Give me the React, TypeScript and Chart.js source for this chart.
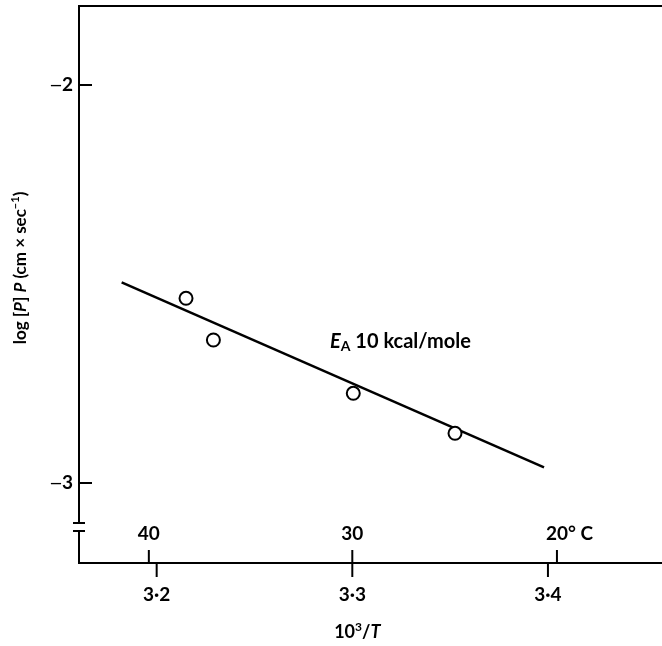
import { useEffect, useRef } from "react";
import { Chart, registerables } from "chart.js";
Chart.register(...registerables);

// measured points (10^3/T, log P)
const pointX = [3.215, 3.229, 3.3005, 3.3525];
const pointY = [-2.5359, -2.6407, -2.7746, -2.8751];
// fitted line end points
const fitX = [3.1821, 3.398];
const fitY = [-2.4957, -2.9606];
// axes
const xTicks = [3.2, 3.3, 3.4];
const xTickLabels = ["3·2", "3·3", "3·4"];
const yTicks = [-2, -3];
const yTickLabels = ["2", "3"];
const tempTicks = [3.196, 3.3, 3.4046];
const tempLabels = ["40", "30", "20"];
const tempSuffix = ["", "", "° C"];
const yBreak = [-3.1005, -3.1206];
const xRange = [3.1603, 3.4583];
const yRange = [-3.201, -1.8015];
const annotationPos = [3.2886, -2.6608];

const FAM = "Lato, 'Open Sans', sans-serif";
const f = (size: number, italic = false, weight = 700) =>
  `${italic ? "italic " : ""}${weight} ${size}px ${FAM}`;

type Run = { t: string; font: string; dy?: number };

function drawRuns(ctx: CanvasRenderingContext2D, runs: Run[], x: number, y: number, align: "left" | "center" | "right") {
  let total = 0;
  for (const r of runs) {
    ctx.font = r.font;
    total += ctx.measureText(r.t).width;
  }
  let cx = align === "center" ? x - total / 2 : align === "right" ? x - total : x;
  ctx.textAlign = "left";
  for (const r of runs) {
    ctx.font = r.font;
    ctx.fillText(r.t, cx, y + (r.dy || 0));
    cx += ctx.measureText(r.t).width;
  }
}

const decorPlugin = {
  id: "decor",
  afterDraw(chart: any) {
    const ctx: CanvasRenderingContext2D = chart.ctx;
    const xs = chart.scales.x;
    const ys = chart.scales.y;
    const X = (v: number) => xs.getPixelForValue(v);
    const Y = (v: number) => ys.getPixelForValue(v);
    const { left, right, top, bottom } = chart.chartArea;
    ctx.save();
    ctx.strokeStyle = "#000";
    ctx.fillStyle = "#000";
    ctx.lineWidth = 2;
    ctx.lineCap = "butt";
    // top line
    ctx.beginPath();
    ctx.moveTo(left - 1, top);
    ctx.lineTo(right, top);
    ctx.stroke();
    // left axis with break
    const b1 = Y(yBreak[0]);
    const b2 = Y(yBreak[1]);
    ctx.beginPath();
    ctx.moveTo(left, top);
    ctx.lineTo(left, b1);
    ctx.moveTo(left - 6, b1);
    ctx.lineTo(left + 6, b1);
    ctx.moveTo(left - 6, b2);
    ctx.lineTo(left + 6, b2);
    ctx.moveTo(left, b2);
    ctx.lineTo(left, bottom + 1);
    ctx.stroke();
    // bottom axis
    ctx.beginPath();
    ctx.moveTo(left - 1, bottom);
    ctx.lineTo(right, bottom);
    ctx.stroke();
    // y ticks (inside)
    ctx.textBaseline = "middle";
    yTicks.forEach((v, i) => {
      const py = Y(v);
      ctx.beginPath();
      ctx.moveTo(left, py);
      ctx.lineTo(left + 13, py);
      ctx.stroke();
      drawRuns(
        ctx,
        [
          { t: "—", font: f(15) },
          { t: yTickLabels[i], font: f(19) },
        ],
        left - 6,
        py,
        "right"
      );
    });
    // x ticks (down)
    xTicks.forEach((v, i) => {
      const px = X(v);
      ctx.beginPath();
      ctx.moveTo(px, bottom);
      ctx.lineTo(px, bottom + 14);
      ctx.stroke();
      ctx.font = f(19);
      ctx.textAlign = "center";
      ctx.fillText(xTickLabels[i], px, bottom + 32);
    });
    // temperature ticks (up)
    tempTicks.forEach((v, i) => {
      const px = X(v);
      ctx.beginPath();
      ctx.moveTo(px, bottom);
      ctx.lineTo(px, bottom - 13);
      ctx.stroke();
      ctx.font = f(19);
      const w = ctx.measureText(tempLabels[i]).width;
      ctx.textAlign = "left";
      ctx.fillText(tempLabels[i] + tempSuffix[i], px - w / 2, bottom - 29);
    });
    // x title
    ctx.textBaseline = "alphabetic";
    drawRuns(
      ctx,
      [
        { t: "10", font: f(18) },
        { t: "3", font: f(12), dy: -7 },
        { t: "/", font: f(18) },
        { t: "T", font: f(18, true) },
      ],
      X(3.3) + 5,
      bottom + 75,
      "center"
    );
    // y title (rotated)
    ctx.save();
    ctx.translate(26, 268);
    ctx.rotate(-Math.PI / 2);
    drawRuns(
      ctx,
      [
        { t: "log [", font: f(17) },
        { t: "P", font: f(17, true) },
        { t: "] ", font: f(17) },
        { t: "P", font: f(17, true) },
        { t: " (cm × sec", font: f(17) },
        { t: "−1", font: f(11), dy: -7 },
        { t: ")", font: f(17) },
      ],
      0,
      0,
      "center"
    );
    ctx.restore();
    // annotation
    drawRuns(
      ctx,
      [
        { t: "E", font: f(20, true) },
        { t: "A", font: f(14), dy: 3 },
        { t: " 10 kcal/mole", font: f(20) },
      ],
      X(annotationPos[0]),
      Y(annotationPos[1]),
      "left"
    );
    ctx.restore();
  },
};

export default function App() {
  const ref = useRef<HTMLCanvasElement | null>(null);
  useEffect(() => {
    if (!ref.current) return;
    const chart = new Chart(ref.current, {
      type: "scatter",
      data: {
        datasets: [
          {
            label: "points",
            data: pointX.map((x, i) => ({ x, y: pointY[i] })),
            pointStyle: "circle",
            pointRadius: 6.5,
            pointBorderWidth: 2,
            pointBackgroundColor: "#fff",
            pointBorderColor: "#000",
            showLine: false,
          },
          {
            label: "fit",
            data: fitX.map((x, i) => ({ x, y: fitY[i] })),
            showLine: true,
            borderColor: "#000",
            borderWidth: 2.5,
            pointRadius: 0,
          },
        ],
      },
      options: {
        responsive: false,
        animation: false,
        layout: { autoPadding: false, padding: { left: 79, right: 0, top: 6, bottom: 83 } },
        plugins: { legend: { display: false }, tooltip: { enabled: false } },
        scales: {
          x: { type: "linear", display: false, min: xRange[0], max: xRange[1] },
          y: { type: "linear", display: false, min: yRange[0], max: yRange[1] },
        },
      },
      plugins: [decorPlugin],
    });
    return () => chart.destroy();
  }, []);
  return (
    <div style={{ position: "absolute", left: 0, top: 0, width: 662, height: 646, background: "#fff" }}>
      <canvas ref={ref} width={662} height={646} />
    </div>
  );
}
